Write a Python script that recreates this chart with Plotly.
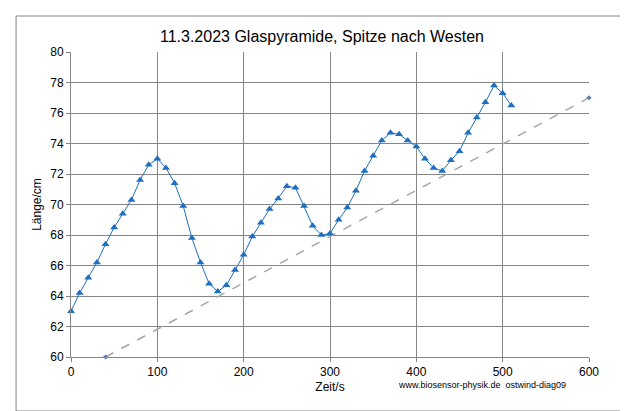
import plotly.graph_objects as go

zeit = list(range(0, 520, 10))
laenge = [63.0, 64.2, 65.2, 66.2, 67.4, 68.5, 69.4, 70.3, 71.6, 72.6,
          73.0, 72.4, 71.4, 69.9, 67.8, 66.2, 64.8, 64.3, 64.7, 65.7,
          66.7, 67.9, 68.8, 69.7, 70.4, 71.2, 71.1, 69.9, 68.6, 68.0,
          68.1, 69.0, 69.8, 70.9, 72.2, 73.2, 74.2, 74.7, 74.6, 74.2,
          73.8, 73.0, 72.4, 72.2, 72.9, 73.5, 74.7, 75.7, 76.7, 77.8,
          77.3, 76.5]
trend_x = [40, 600]
trend_y = [60, 77]

font = "Liberation Sans, Arial, sans-serif"
fig = go.Figure()
fig.add_trace(go.Scatter(x=trend_x, y=trend_y, mode="lines+markers", cliponaxis=False,
                         line=dict(color="#a6a6a6", width=1.5, dash="dash"),
                         marker=dict(symbol="diamond", size=4, color="#5b7fb5")))
fig.add_trace(go.Scatter(x=zeit, y=laenge, mode="lines+markers", cliponaxis=False,
                         line=dict(color="#1f6fbf", width=1),
                         marker=dict(symbol="triangle-up", size=7, color="#1f6fbf")))

axis = dict(showgrid=True, gridcolor="#868686", gridwidth=1, zeroline=False,
            showline=True, linecolor="#868686", ticks="outside", ticklen=4,
            tickcolor="#868686", tickfont=dict(size=12, color="black", family=font))
fig.update_layout(
    width=628, height=411, showlegend=False,
    paper_bgcolor="white", plot_bgcolor="white",
    margin=dict(l=63, r=47, t=44, b=62, autoexpand=False),
    title=dict(text="11.3.2023 Glaspyramide, Spitze nach Westen", x=0.5, y=0.945,
               xanchor="center", font=dict(size=16, color="black", family=font)),
    xaxis=dict(axis, range=[0, 600], dtick=100, title=dict(text="Zeit/s", standoff=4,
               font=dict(size=12, color="black", family=font))),
    yaxis=dict(axis, range=[60, 80], dtick=2, title=dict(text="Länge/cm", standoff=6,
               font=dict(size=12, color="black", family=font))),
    shapes=[dict(type="rect", xref="paper", yref="paper", x0=-0.106, x1=1.075, y0=-0.177, y1=1.118,
                 line=dict(color="#868686", width=1))],
    annotations=[dict(text="www.biosensor-physik.de  ostwind-diag09", xref="paper", yref="paper",
                      x=0.96, y=-0.115, xanchor="right", showarrow=False,
                      font=dict(size=9, color="black", family=font))],
)
fig.write_html("out.html")
